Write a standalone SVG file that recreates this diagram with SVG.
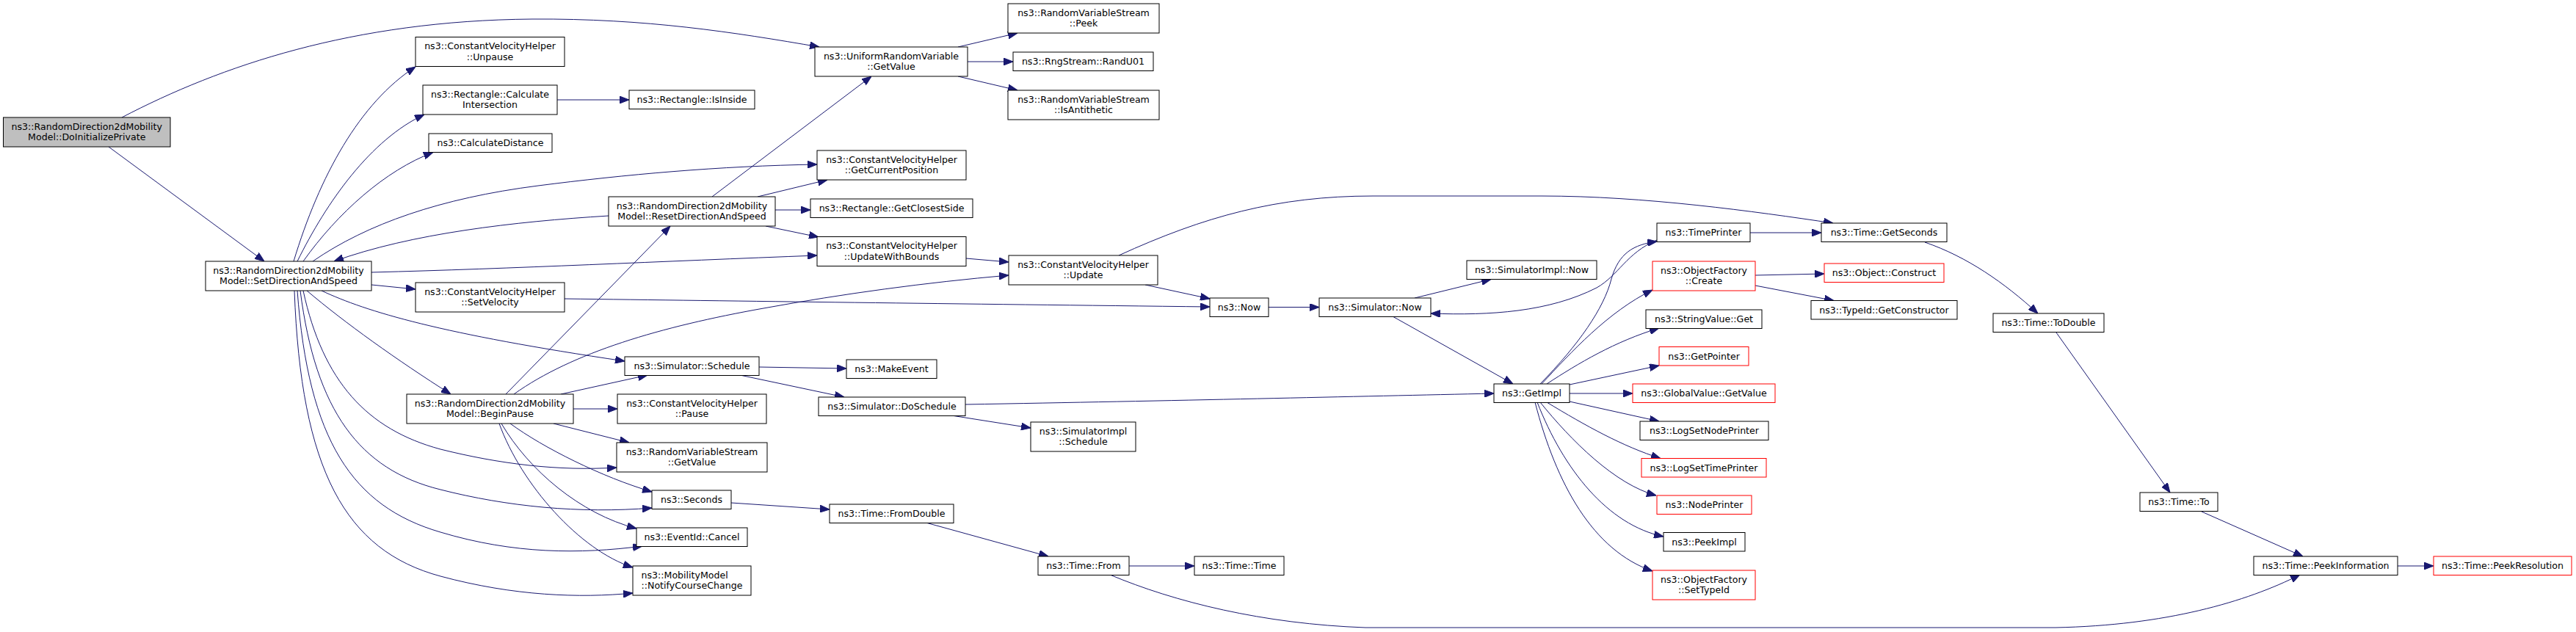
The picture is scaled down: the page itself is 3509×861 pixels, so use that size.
<svg xmlns="http://www.w3.org/2000/svg" width="3509" height="861" viewBox="0 0 3509 861">
<defs>
<marker id="ah" viewBox="0 0 13 10" refX="13" refY="5" markerWidth="13" markerHeight="10" markerUnits="userSpaceOnUse" orient="auto"><path d="M0,0 L13,5 L0,10 z" fill="#191970" stroke="#191970" stroke-width="1"/></marker>
</defs>
<style>
.n rect{fill:#ffffff;stroke:#000000;stroke-width:1}
.n.red rect{stroke:#ff0000}
.n.root rect{fill:#bfbfbf}
text{font-family:"DejaVu Sans","Bitstream Vera Sans",sans-serif;font-size:12.6px;text-anchor:middle;fill:#000000}
text.l{text-anchor:start}
#edges path{fill:none;stroke:#191970;stroke-width:1;marker-end:url(#ah)}
</style>
<rect x="0" y="0" width="3509" height="861" fill="#ffffff"/>
<g id="edges">
<path d="M166,160 C300,90 480,28 725,26 C880,25 1000,44 1116,64"/>
<path d="M148,200 L360,356"/>
<path d="M400,356 C435,240 490,140 566,91"/>
<path d="M405,356 C445,275 505,190 578,156"/>
<path d="M413,356 C460,290 525,232 590,207.5"/>
<path d="M426,356 C500,305 600,270 733,253 C850,238 980,226 1113,224"/>
<path d="M829,294 C700,302 560,318 455,356"/>
<path d="M506,371 C700,366 900,356 1113,348"/>
<path d="M506,388 L566,394"/>
<path d="M438,396 C500,425 600,455 851,492"/>
<path d="M418,396 C470,440 540,490 614,537"/>
<path d="M413,396 C440,520 500,585 600,612 C680,632 760,642 840,637"/>
<path d="M409,396 C430,560 490,640 600,667 C690,690 790,700 888,692"/>
<path d="M405,396 C420,600 480,690 600,725 C700,755 790,755 875,744"/>
<path d="M401,396 C410,640 470,750 600,785 C700,812 790,815 862,808"/>
<path d="M970,268 L1187,104"/>
<path d="M1032,268 L1127,245"/>
<path d="M1056,286 L1104,286"/>
<path d="M1043,308 L1115,323"/>
<path d="M759,136 L857,136"/>
<path d="M1305,64 L1386,45"/>
<path d="M1318,84 L1380,84"/>
<path d="M1305,104 L1386,123"/>
<path d="M1316,352 L1374,357"/>
<path d="M700,537 C780,480 900,445 1040,420 C1150,400 1260,385 1374,375"/>
<path d="M689,537 L913,308"/>
<path d="M769,407 C1000,410 1300,414 1648,418"/>
<path d="M1560,388 L1648,407"/>
<path d="M1524,348 C1640,295 1740,267 1870,267 L2100,267 C2240,267 2390,288 2497,304"/>
<path d="M1728,418.5 L1797,418.5"/>
<path d="M1927,406 L2031,380.5"/>
<path d="M1897,431 L2061,523"/>
<path d="M2257,327 C2215,345 2205,375 2175,392 C2110,425 2030,430 1949,427"/>
<path d="M2098,523 C2150,470 2185,420 2195,380 C2205,345 2225,333 2257,329"/>
<path d="M2100,523 C2140,480 2190,425 2251,395"/>
<path d="M2107,523 C2150,495 2200,465 2260,447"/>
<path d="M2138,524 L2260,498"/>
<path d="M2138,536 L2224,536"/>
<path d="M2138,547 L2260,574"/>
<path d="M2107,548 C2160,580 2210,608 2262,624.5"/>
<path d="M2098,548 C2140,600 2200,660 2256,675"/>
<path d="M2094,548 C2130,640 2190,715 2266,731"/>
<path d="M2091,548 C2120,660 2170,750 2251,778"/>
<path d="M1315,551 C1600,546 1850,540 2035,536"/>
<path d="M2384,317 L2481,317"/>
<path d="M2391,375 L2485,373"/>
<path d="M2391,389 L2498,409.5"/>
<path d="M2622,330 C2680,350 2730,385 2776,427"/>
<path d="M2801,453 L2956,671"/>
<path d="M2999,697 L3137,758"/>
<path d="M3266,771 L3315,771"/>
<path d="M1512,783 C1600,820 1720,850 1860,855 L2800,855 C2950,852 3060,820 3133,783"/>
<path d="M1538,771 L1627,771"/>
<path d="M1263,712.5 L1428,758"/>
<path d="M996,685 L1130,694"/>
<path d="M1034,500 L1153,502"/>
<path d="M1008,511 L1150,541"/>
<path d="M1296,566 L1404,583"/>
<path d="M764,537 L882,511"/>
<path d="M781,557 L841,557"/>
<path d="M754,577 L857,603"/>
<path d="M695,577 C740,610 820,650 888,670"/>
<path d="M683,577 C720,640 790,700 867,720"/>
<path d="M680,577 C710,660 790,750 862,773"/>
</g>
<g id="n_doinit" class="n root"><rect x="4.5" y="160" width="227.5" height="40"/><text x="118.25" y="176.6">ns3::RandomDirection2dMobility</text><text x="118.25" y="191.3">Model::DoInitializePrivate</text></g>
<g id="n_sds" class="n"><rect x="280" y="356" width="226" height="40"/><text x="393" y="372.6">ns3::RandomDirection2dMobility</text><text x="393" y="387.3">Model::SetDirectionAndSpeed</text></g>
<g id="n_unpause" class="n"><rect x="566" y="50.5" width="203" height="40"/><text x="667.5" y="67.1">ns3::ConstantVelocityHelper</text><text x="667.5" y="81.8">::Unpause</text></g>
<g id="n_calcint" class="n"><rect x="576" y="116" width="183" height="40"/><text x="667.5" y="132.6">ns3::Rectangle::Calculate</text><text x="667.5" y="147.3">Intersection</text></g>
<g id="n_calcdist" class="n"><rect x="584" y="182" width="168" height="25.5"/><text x="668" y="199">ns3::CalculateDistance</text></g>
<g id="n_setvel" class="n"><rect x="566" y="385" width="203" height="40"/><text x="667.5" y="401.6">ns3::ConstantVelocityHelper</text><text x="667.5" y="416.3">::SetVelocity</text></g>
<g id="n_isinside" class="n"><rect x="857" y="123" width="171" height="25.5"/><text x="942.5" y="140">ns3::Rectangle::IsInside</text></g>
<g id="n_rds" class="n"><rect x="829" y="268" width="227" height="40"/><text x="942.5" y="284.6">ns3::RandomDirection2dMobility</text><text x="942.5" y="299.3">Model::ResetDirectionAndSpeed</text></g>
<g id="n_bp" class="n"><rect x="554" y="537" width="227" height="40"/><text x="667.5" y="553.6">ns3::RandomDirection2dMobility</text><text x="667.5" y="568.3">Model::BeginPause</text></g>
<g id="n_schedule" class="n"><rect x="851" y="486" width="183" height="25.5"/><text x="942.5" y="503">ns3::Simulator::Schedule</text></g>
<g id="n_pause" class="n"><rect x="841" y="537" width="203" height="40"/><text x="942.5" y="553.6">ns3::ConstantVelocityHelper</text><text x="942.5" y="568.3">::Pause</text></g>
<g id="n_rvsget" class="n"><rect x="840" y="603" width="205" height="40"/><text x="942.5" y="619.6">ns3::RandomVariableStream</text><text x="942.5" y="634.3">::GetValue</text></g>
<g id="n_seconds" class="n"><rect x="888" y="668" width="108" height="25.5"/><text x="942" y="685">ns3::Seconds</text></g>
<g id="n_cancel" class="n"><rect x="867" y="719" width="151" height="25.5"/><text x="942.5" y="736">ns3::EventId::Cancel</text></g>
<g id="n_notify" class="n"><rect x="862" y="771" width="161" height="40"/><text class="l" x="873.5" y="787.6">ns3::MobilityModel</text><text class="l" x="873.5" y="802.3">::NotifyCourseChange</text></g>
<g id="n_uniform" class="n"><rect x="1110" y="64" width="208" height="40"/><text x="1214" y="80.6">ns3::UniformRandomVariable</text><text x="1214" y="95.3">::GetValue</text></g>
<g id="n_getcur" class="n"><rect x="1113" y="205" width="203" height="40"/><text x="1214.5" y="221.6">ns3::ConstantVelocityHelper</text><text x="1214.5" y="236.3">::GetCurrentPosition</text></g>
<g id="n_closest" class="n"><rect x="1104" y="271" width="221" height="25.5"/><text x="1214.5" y="288">ns3::Rectangle::GetClosestSide</text></g>
<g id="n_uwb" class="n"><rect x="1113" y="322.5" width="203" height="40"/><text x="1214.5" y="339.1">ns3::ConstantVelocityHelper</text><text x="1214.5" y="353.8">::UpdateWithBounds</text></g>
<g id="n_makeevent" class="n"><rect x="1153" y="490" width="123" height="25.5"/><text x="1214.5" y="507">ns3::MakeEvent</text></g>
<g id="n_dosched" class="n"><rect x="1115" y="541" width="200" height="25.5"/><text x="1215" y="558">ns3::Simulator::DoSchedule</text></g>
<g id="n_fromdouble" class="n"><rect x="1130" y="687" width="169" height="25.5"/><text x="1214.5" y="704">ns3::Time::FromDouble</text></g>
<g id="n_peek" class="n"><rect x="1373" y="5" width="206" height="40"/><text x="1476" y="21.6">ns3::RandomVariableStream</text><text x="1476" y="36.3">::Peek</text></g>
<g id="n_randu01" class="n"><rect x="1380" y="71" width="191" height="25.5"/><text x="1475.5" y="88">ns3::RngStream::RandU01</text></g>
<g id="n_isanti" class="n"><rect x="1373" y="123" width="206" height="40"/><text x="1476" y="139.6">ns3::RandomVariableStream</text><text x="1476" y="154.3">::IsAntithetic</text></g>
<g id="n_update" class="n"><rect x="1374" y="348" width="203" height="40"/><text x="1475.5" y="364.6">ns3::ConstantVelocityHelper</text><text x="1475.5" y="379.3">::Update</text></g>
<g id="n_implsched" class="n"><rect x="1404" y="575" width="143" height="40"/><text x="1475.5" y="591.6">ns3::SimulatorImpl</text><text x="1475.5" y="606.3">::Schedule</text></g>
<g id="n_from" class="n"><rect x="1414" y="758" width="124" height="25.5"/><text x="1476" y="775">ns3::Time::From</text></g>
<g id="n_now" class="n"><rect x="1648" y="406" width="80" height="25.5"/><text x="1688" y="423">ns3::Now</text></g>
<g id="n_timetime" class="n"><rect x="1627" y="758" width="122" height="25.5"/><text x="1688" y="775">ns3::Time::Time</text></g>
<g id="n_simnow" class="n"><rect x="1797" y="406" width="152" height="25.5"/><text x="1873" y="423">ns3::Simulator::Now</text></g>
<g id="n_implnow" class="n"><rect x="1998" y="355" width="177" height="25.5"/><text x="2086.5" y="372">ns3::SimulatorImpl::Now</text></g>
<g id="n_getimpl" class="n"><rect x="2035" y="523" width="103" height="25.5"/><text x="2086.5" y="540">ns3::GetImpl</text></g>
<g id="n_timeprinter" class="n"><rect x="2257" y="304" width="127" height="25.5"/><text x="2320.5" y="321">ns3::TimePrinter</text></g>
<g id="n_create" class="n red"><rect x="2251" y="356" width="140" height="40"/><text x="2321" y="372.6">ns3::ObjectFactory</text><text x="2321" y="387.3">::Create</text></g>
<g id="n_strget" class="n"><rect x="2242" y="422" width="158" height="25.5"/><text x="2321" y="439">ns3::StringValue::Get</text></g>
<g id="n_getpointer" class="n red"><rect x="2260" y="472.5" width="122" height="25.5"/><text x="2321" y="489.5">ns3::GetPointer</text></g>
<g id="n_globalget" class="n red"><rect x="2224" y="523" width="194" height="25.5"/><text x="2321" y="540">ns3::GlobalValue::GetValue</text></g>
<g id="n_lognode" class="n"><rect x="2234" y="574" width="175" height="25.5"/><text x="2321.5" y="591">ns3::LogSetNodePrinter</text></g>
<g id="n_logtime" class="n red"><rect x="2236" y="624.5" width="170" height="25.5"/><text x="2321" y="641.5">ns3::LogSetTimePrinter</text></g>
<g id="n_nodeprinter" class="n red"><rect x="2257" y="675" width="129" height="25.5"/><text x="2321.5" y="692">ns3::NodePrinter</text></g>
<g id="n_peekimpl" class="n"><rect x="2266" y="725.5" width="111" height="25.5"/><text x="2321.5" y="742.5">ns3::PeekImpl</text></g>
<g id="n_settypeid" class="n red"><rect x="2251" y="777" width="140" height="40"/><text x="2321" y="793.6">ns3::ObjectFactory</text><text x="2321" y="808.3">::SetTypeId</text></g>
<g id="n_getseconds" class="n"><rect x="2481" y="304" width="171" height="25.5"/><text x="2566.5" y="321">ns3::Time::GetSeconds</text></g>
<g id="n_construct" class="n red"><rect x="2485" y="359" width="163" height="25.5"/><text x="2566.5" y="376">ns3::Object::Construct</text></g>
<g id="n_getctor" class="n"><rect x="2467" y="409.5" width="199" height="25.5"/><text x="2566.5" y="426.5">ns3::TypeId::GetConstructor</text></g>
<g id="n_todouble" class="n"><rect x="2715" y="427" width="151" height="25.5"/><text x="2790.5" y="444">ns3::Time::ToDouble</text></g>
<g id="n_to" class="n"><rect x="2915" y="671" width="106" height="25.5"/><text x="2968" y="688">ns3::Time::To</text></g>
<g id="n_peekinfo" class="n"><rect x="3070" y="758" width="196" height="25.5"/><text x="3168" y="775">ns3::Time::PeekInformation</text></g>
<g id="n_peekres" class="n red"><rect x="3315" y="758" width="188" height="25.5"/><text x="3409" y="775">ns3::Time::PeekResolution</text></g>
</svg>
